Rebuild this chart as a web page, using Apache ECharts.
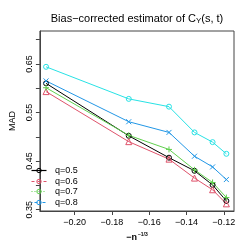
<!DOCTYPE html>
<html><head><meta charset="utf-8">
<script src="https://cdn.jsdelivr.net/npm/echarts@6/dist/echarts.min.js"></script>
<style>html,body{margin:0;padding:0;background:#fff}#c{width:249px;height:249px}</style>
</head><body><div id="c"></div>
<script>
// x positions: -n^(-1/3) for n = 100..600
const xVals = [-0.2154, -0.1710, -0.1494, -0.1357, -0.1260, -0.1186];
const q05 = [0.610, 0.502, 0.457, 0.430, 0.401, 0.368];
const q06 = [0.593, 0.490, 0.454, 0.415, 0.391, 0.362];
const q07 = [0.601, 0.503, 0.474, 0.432, 0.406, 0.375];
const q08 = [0.615, 0.531, 0.509, 0.460, 0.438, 0.412];
const q09 = [0.644, 0.578, 0.562, 0.509, 0.489, 0.465];
const legendNames = ['q=0.5', 'q=0.6', 'q=0.7', 'q=0.8'];
const xTicks = [-0.20, -0.18, -0.16, -0.14, -0.12];
const yTicks = [0.35, 0.40, 0.45, 0.50, 0.55, 0.60, 0.65, 0.70];
const yLabels = [0.35, 0.45, 0.55, 0.65];

const FONT = 'Liberation Sans';
const cols = ['#000000', '#DF536B', '#61D04F', '#2297E6', '#28E2E5'];
const dashes = [[], [3, 3], [1, 2], [1, 2, 3, 2]];
const PLUS = 'path://M0,5L10,5M5,0L5,10';
const CROSS = 'path://M0,0L10,10M0,10L10,0';

function pts(v) { return xVals.map((x, i) => [x, v[i]]); }
function dataSeries(name, v, col, sym, size) {
  return {
    name: name, type: 'line', data: pts(v), symbol: sym, symbolSize: size,
    lineStyle: { color: col, width: 1 },
    itemStyle: { color: 'rgba(0,0,0,0)', borderColor: col, borderWidth: 1 },
    emphasis: { disabled: true }, animation: false, z: 3
  };
}
const series = [
  dataSeries('q=0.5', q05, cols[0], 'circle', 5),
  dataSeries('q=0.6', q06, cols[1], 'triangle', 6),
  dataSeries('q=0.7', q07, cols[2], PLUS, 6),
  dataSeries('q=0.8', q08, cols[3], CROSS, 5),
  dataSeries('q=0.9', q09, cols[4], 'circle', 5)
];

// legend drawn as graphic elements (line sample + open circle + text)
const legX = 31.5, legY0 = 170, legDy = 10.6, legLen = 15;
const graphics = [];
legendNames.forEach((n, i) => {
  const y = Math.round(legY0 + i * legDy) + 0.5;
  graphics.push({
    type: 'line', silent: true, z: 20,
    shape: { x1: legX, y1: y, x2: legX + legLen, y2: y },
    style: { stroke: cols[i], lineWidth: 1.2, lineDash: dashes[i] }
  });
  graphics.push({
    type: 'circle', silent: true, z: 21,
    shape: { cx: legX + legLen / 2, cy: y, r: 2.2 },
    style: { fill: 'rgba(0,0,0,0)', stroke: cols[i], lineWidth: 1 }
  });
  graphics.push({
    type: 'text', silent: true, z: 21, x: 55, y: y,
    style: { text: n, fontFamily: FONT, fontSize: 9, fill: '#000', verticalAlign: 'middle', align: 'left' }
  });
});

const chart = echarts.init(document.getElementById('c'), null, { renderer: 'canvas' });
chart.setOption({
  animation: false,
  backgroundColor: '#fff',
  title: {
    text: 'Bias\u2212corrected estimator of C{sub|Y}(s, t)',
    left: 132, top: 7, textAlign: 'center',
    textStyle: {
      fontFamily: FONT, fontSize: 11, fontWeight: 'normal', color: '#000',
      rich: { sub: { fontFamily: FONT, fontSize: 8, padding: [5, 0, 0, 0], color: '#000' } }
    }
  },
  graphic: graphics,
  grid: { left: 30, right: 15, top: 31, bottom: 38, show: true, borderColor: '#444', borderWidth: 1, containLabel: false },
  xAxis: {
    type: 'value', min: -0.2187, max: -0.1145,
    name: '\u2212n{s|\u22121/3}', nameLocation: 'middle', nameGap: 18,
    nameTextStyle: {
      fontFamily: FONT, fontSize: 9, color: '#000', fontWeight: 'bold',
      rich: { s: { fontFamily: FONT, fontSize: 5, padding: [0, 0, 7, 1], color: '#000' } }
    },
    axisLine: { show: true, lineStyle: { color: '#444', width: 1 } },
    axisTick: { show: true, length: 4, customValues: xTicks, lineStyle: { color: '#444' } },
    axisLabel: {
      customValues: xTicks, margin: 7, fontFamily: FONT, fontSize: 9, color: '#000',
      formatter: v => (v < 0 ? '\u2212' : '') + Math.abs(v).toFixed(2)
    },
    splitLine: { show: false }
  },
  yAxis: {
    type: 'value', min: 0.3473, max: 0.7177,
    name: 'MAD', nameLocation: 'middle', nameGap: 20,
    nameTextStyle: { fontFamily: FONT, fontSize: 9, color: '#000' },
    axisLine: { show: true, lineStyle: { color: '#444', width: 1 } },
    axisTick: { show: true, length: 4, customValues: yTicks, lineStyle: { color: '#444' } },
    axisLabel: {
      customValues: yLabels, rotate: 90, margin: 6, fontFamily: FONT, fontSize: 9, color: '#000',
      formatter: v => v.toFixed(2)
    },
    splitLine: { show: false }
  },
  series: series
});
</script></body></html>
